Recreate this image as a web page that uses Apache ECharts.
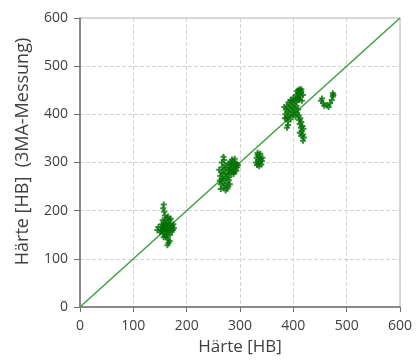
<!DOCTYPE html>
<html>
<head>
<meta charset="utf-8">
<script src="https://cdn.jsdelivr.net/npm/echarts@6/dist/echarts.min.js"></script>
<style>
  html, body { margin: 0; padding: 0; background: #fff; }
  #chart { width: 417px; height: 363px; }
</style>
</head>
<body>
<div id="chart"></div>
<script>
const clusterA = [
  [152, 160], [154, 165], [155, 158], [156, 170], [157, 152], [158, 162], [158, 175], [159, 148],
  [160, 168], [160, 180], [161, 157], [162, 172], [163, 150], [163, 185], [164, 163], [165, 176],
  [166, 155], [167, 168], [168, 160], [168, 181], [169, 150], [170, 172], [171, 163], [172, 156],
  [150, 155], [153, 172], [155, 180], [157, 145], [162, 145], [165, 188], [170, 183], [173, 168],
  [174, 160], [159, 190], [156, 164], [161, 162], [166, 170], [164, 158], [145, 160], [147, 166],
  [176, 164], [175, 172],
  [156, 205], [157, 213], [158, 198], [165, 140], [166, 133], [168, 137], [164, 128]
]
const clusterB = [
  [262, 262], [263, 272], [264, 255], [265, 280], [266, 266], [267, 290], [268, 258], [268, 275],
  [269, 248], [270, 285], [271, 265], [272, 295], [272, 253], [273, 278], [274, 268], [275, 288],
  [276, 258], [276, 246], [277, 275], [278, 298], [279, 263], [279, 284], [280, 270], [281, 255],
  [266, 300], [270, 305], [261, 285], [264, 245], [273, 242], [278, 250], [269, 312],
  [280, 290], [282, 283], [283, 297], [284, 278], [285, 290], [286, 302], [287, 285], [288, 294],
  [289, 280], [290, 300], [291, 288], [292, 295], [293, 283], [294, 298], [295, 290], [285, 306],
  [290, 308], [296, 295], [282, 300], [288, 276]
]
const clusterC = [
  [330, 300], [331, 310], [332, 295], [333, 316], [334, 305], [335, 298], [336, 312], [337, 302],
  [338, 318], [339, 308], [340, 296], [341, 303], [333, 320], [336, 292], [342, 310]
]
const clusterD = [
  [385, 400], [386, 410], [387, 392], [388, 418], [389, 405], [390, 395], [391, 425], [392, 412],
  [393, 400], [394, 420], [395, 390], [396, 408], [397, 428], [398, 415], [399, 398], [400, 422],
  [401, 405], [402, 430], [403, 412], [404, 395], [405, 425], [406, 418], [407, 402], [408, 432],
  [409, 410], [384, 392], [390, 385], [395, 430], [400, 435], [383, 415], [390, 378], [388, 372],
  [405, 440], [407, 448], [408, 436], [410, 444], [411, 430], [412, 452], [413, 438], [415, 446],
  [416, 428], [418, 440], [414, 448], [409, 434], [412, 442], [409, 450], [415, 452],
  [410, 398], [411, 388], [412, 380], [413, 392], [414, 372], [415, 384], [416, 365], [417, 376],
  [418, 358], [419, 370], [420, 352], [412, 362], [415, 355], [418, 345]
]
const clusterE = [
  [454, 433], [456, 423], [458, 418], [463, 419], [466, 415], [469, 423], [472, 430], [474, 444],
  [474, 437], [475, 440], [452, 428]
]
const diagonal = [[0, 0], [600, 600]]

const chart = echarts.init(document.getElementById('chart'))
const font = '"Open Sans", "DejaVu Sans", sans-serif'
const plusMark = 'path://M2,0H4V2H6V4H4V6H2V4H0V2H2Z'

chart.setOption({
  animation: false,
  grid: {
    left: 80,
    right: 17,
    top: 18,
    bottom: 56,
    show: true,
    borderColor: '#b0b0b0',
    borderWidth: 1
  },
  xAxis: {
    type: 'value',
    min: 0,
    max: 600,
    interval: 100,
    name: 'Härte [HB]',
    nameLocation: 'middle',
    nameGap: 32,
    nameTextStyle: { fontFamily: font, fontSize: 17, color: '#404040' },
    axisLine: { lineStyle: { color: '#707070', width: 1.5 } },
    axisTick: { show: true, length: 5, lineStyle: { color: '#707070' } },
    axisLabel: { fontFamily: font, fontSize: 14, color: '#404040', margin: 12 },
    splitLine: { lineStyle: { color: '#d4d4d4', type: 'dashed' } }
  },
  yAxis: {
    type: 'value',
    min: 0,
    max: 600,
    interval: 100,
    name: 'Härte [HB]  (3MA-Messung)',
    nameLocation: 'middle',
    nameGap: 48,
    nameTextStyle: { fontFamily: font, fontSize: 18, color: '#404040', padding: [0, 0, 0, 22] },
    axisLine: { show: true, lineStyle: { color: '#707070', width: 1.5 } },
    axisTick: { show: true, length: 6, lineStyle: { color: '#707070' } },
    axisLabel: { fontFamily: font, fontSize: 14, color: '#404040', margin: 12 },
    splitLine: { lineStyle: { color: '#d4d4d4', type: 'dashed' } }
  },
  series: [
    {
      type: 'line',
      data: diagonal,
      symbol: 'none',
      lineStyle: { color: '#3fa03f', width: 1.5 },
      z: 3
    },
    {
      type: 'scatter',
      data: clusterA.concat(clusterB, clusterC, clusterD, clusterE),
      symbol: plusMark,
      symbolSize: 6,
      itemStyle: { color: '#007000' },
      z: 4
    }
  ]
})
</script>
</body>
</html>
